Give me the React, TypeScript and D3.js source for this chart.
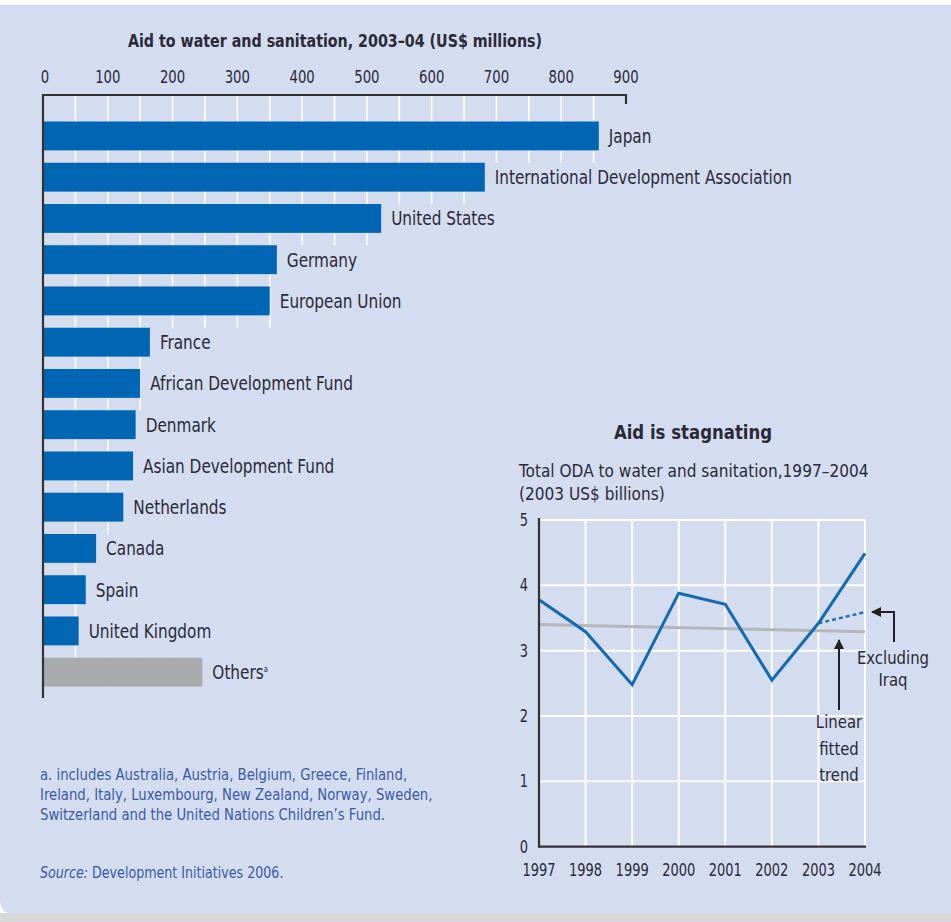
import React from "react";
import * as d3 from "d3";

const categories = [
  "Japan",
  "International Development Association",
  "United States",
  "Germany",
  "European Union",
  "France",
  "African Development Fund",
  "Denmark",
  "Asian Development Fund",
  "Netherlands",
  "Canada",
  "Spain",
  "United Kingdom",
  "Others",
];
const aidValues = [858, 682, 522, 361, 350, 165, 150, 143, 139, 124, 82, 66, 55, 246];
const barTicks = [0, 100, 200, 300, 400, 500, 600, 700, 800, 900];

const years = [1997, 1998, 1999, 2000, 2001, 2002, 2003, 2004];
const odaValues = [3.78, 3.29, 2.48, 3.88, 3.71, 2.55, 3.42, 4.49];
const exclIraqYears = [2003, 2004];
const exclIraqValues = [3.42, 3.59];
const trendYears = [1997, 2004];
const trendValues = [3.4, 3.29];
const yTicks = [0, 1, 2, 3, 4, 5];

const footnoteLines = [
  "a. includes Australia, Austria, Belgium, Greece, Finland,",
  "Ireland, Italy, Luxembourg, New Zealand, Norway, Sweden,",
  "Switzerland and the United Nations Children\u2019s Fund.",
];

const FONT = "'DejaVu Sans Condensed', 'Liberation Sans Narrow', sans-serif";
const TEXT = "#2b2a38";
const BLUE = "#0066b3";

function T(props: {
  x: number;
  y: number;
  sx?: number;
  size: number;
  anchor?: string;
  weight?: string;
  fill?: string;
  children: React.ReactNode;
}) {
  const { x, y, sx = 0.86, size, anchor = "start", weight = "normal", fill = TEXT, children } = props;
  return (
    <text
      transform={`translate(${x},${y}) scale(${sx},1)`}
      textAnchor={anchor}
      fontSize={size}
      fontWeight={weight}
      fill={fill}
    >
      {children}
    </text>
  );
}

export default function App() {
  const W = 951;
  const H = 922;

  const xB = d3.scaleLinear().domain([0, 900]).range([43, 626]);
  const yB = d3
    .scaleBand<string>()
    .domain(categories)
    .range([115.3, 692.8])
    .paddingInner(0.3)
    .paddingOuter(0.15);

  const xL = d3.scaleLinear().domain([1997, 2004]).range([539, 865]);
  const yL = d3.scaleLinear().domain([0, 5]).range([846.7, 520]);

  const line = d3
    .line<[number, number]>()
    .x((d) => xL(d[0]))
    .y((d) => yL(d[1]));

  const odaPts: [number, number][] = years.map((y, i) => [y, odaValues[i]]);
  const exPts: [number, number][] = exclIraqYears.map((y, i) => [y, exclIraqValues[i]]);
  const trPts: [number, number][] = trendYears.map((y, i) => [y, trendValues[i]]);

  const gridVals = d3.range(50, 900, 50);
  const n = categories.length;
  const lastBottom = (yB(categories[n - 1]) as number) + yB.bandwidth();

  const gridSegs: { v: number; y1: number; y2: number; k: string }[] = [];
  categories.forEach((c, i) => {
    const y1 = i === 0 ? 96 : (yB(c) as number);
    const y2 = i < n - 1 ? (yB(categories[i + 1]) as number) : lastBottom;
    gridVals
      .filter((v) => v <= aidValues[i])
      .forEach((v) => gridSegs.push({ v, y1, y2, k: c + v }));
  });

  return (
    <svg
      width={W}
      height={H}
      style={{ position: "absolute", left: 0, top: 0, fontFamily: FONT }}
    >
      <defs>
        <marker id="ah" viewBox="0 0 10 10" refX="9" refY="5" markerWidth="5" markerHeight="5" orient="auto-start-reverse">
          <path d="M0,0 L10,5 L0,10 Z" fill="#222" />
        </marker>
      </defs>
      <rect x={0} y={0} width={W} height={H} fill="#ffffff" />
      <rect x={0} y={913} width={W} height={9} fill="#d8d8d8" />
      <path d={`M0,5 L${W},5 L${W},914 L14,914 Q0,914 0,900 Z`} fill="#d3ddef" />

      {/* Bar chart */}
      <T x={335} y={47} size={18} sx={0.88} anchor="middle" weight="bold">
        Aid to water and sanitation, 2003–04 (US$ millions)
      </T>
      {barTicks.map((t) => (
        <T key={t} x={xB(t) + (t === 0 ? 2 : 0)} y={83} size={18} sx={0.82} anchor="middle">
          {t}
        </T>
      ))}
      {gridSegs.map((g) => (
        <line key={g.k} x1={xB(g.v)} x2={xB(g.v)} y1={g.y1} y2={g.y2} stroke="#ffffff" strokeWidth={1.6} />
      ))}
      {categories.map((c, i) => (
        <rect
          key={c}
          x={xB(0)}
          y={yB(c)}
          width={xB(aidValues[i]) - xB(0)}
          height={yB.bandwidth()}
          fill={c === "Others" ? "#a8aaae" : BLUE}
        />
      ))}
      {categories.map((c, i) => (
        <T key={c + "l"} x={xB(aidValues[i]) + 10} y={(yB(c) as number) + yB.bandwidth() / 2 + 7} size={20} sx={0.85}>
          {c}
          {c === "Others" ? (
            <tspan fontSize={9} dy={-7}>a</tspan>
          ) : null}
        </T>
      ))}
      <line x1={xB(0)} x2={xB(900)} y1={95} y2={95} stroke="#333" strokeWidth={2.2} />
      <line x1={xB(900)} x2={xB(900)} y1={94} y2={104} stroke="#333" strokeWidth={2.2} />
      <line x1={xB(0)} x2={xB(0)} y1={94} y2={698} stroke="#333" strokeWidth={2.2} />

      {/* Footnotes */}
      {footnoteLines.map((l, i) => (
        <T key={i} x={40} y={780 + i * 20} size={16} sx={0.92} fill="#3b5aa6">
          {l}
        </T>
      ))}
      <T x={40} y={878} size={16} sx={0.88} fill="#3b5aa6">
        <tspan fontStyle="italic">Source:</tspan> Development Initiatives 2006.
      </T>

      {/* Line chart */}
      <T x={693} y={439} size={20} sx={0.92} anchor="middle" weight="bold">
        Aid is stagnating
      </T>
      <T x={519} y={477} size={18} sx={0.95}>
        Total ODA to water and sanitation,1997–2004
      </T>
      <T x={519} y={500} size={18} sx={0.95}>
        (2003 US$ billions)
      </T>
      {yTicks.filter((t) => t > 0).map((t) => (
        <line key={t} x1={xL(1997)} x2={xL(2004)} y1={yL(t)} y2={yL(t)} stroke="#ffffff" strokeWidth={2} />
      ))}
      {years.filter((y) => y > 1997).map((y) => (
        <line key={y} x1={xL(y)} x2={xL(y)} y1={yL(5)} y2={yL(0)} stroke="#ffffff" strokeWidth={2} />
      ))}
      <path d={line(trPts) || ""} fill="none" stroke="#b3b6bb" strokeWidth={3} />
      <path d={line(exPts) || ""} fill="none" stroke="#2670bd" strokeWidth={2.5} strokeDasharray="4 3" />
      <path d={line(odaPts) || ""} fill="none" stroke="#1469b3" strokeWidth={3} />
      <line x1={xL(1997)} x2={xL(1997)} y1={yL(5) - 2} y2={yL(0) + 1} stroke="#333" strokeWidth={2.2} />
      <line x1={xL(1997)} x2={xL(2004) + 1} y1={yL(0)} y2={yL(0)} stroke="#333" strokeWidth={2.2} />
      {yTicks.map((t) => (
        <T key={t} x={524} y={yL(t) + 6} size={17} sx={0.85} anchor="middle">
          {t}
        </T>
      ))}
      {years.map((y) => (
        <T key={y} x={xL(y)} y={876} size={17} sx={0.85} anchor="middle">
          {y}
        </T>
      ))}

      {/* Annotations */}
      <path d="M894,642 L894,612 L872,612" fill="none" stroke="#222" strokeWidth={2} markerEnd="url(#ah)" />
      <T x={893} y={664} size={18} sx={0.92} anchor="middle">Excluding</T>
      <T x={893} y={686} size={18} sx={0.92} anchor="middle">Iraq</T>
      <path d="M839,710 L839,640" fill="none" stroke="#222" strokeWidth={2} markerEnd="url(#ah)" />
      <T x={839} y={728} size={18} sx={0.92} anchor="middle">Linear</T>
      <T x={839} y={755} size={18} sx={0.92} anchor="middle">fitted</T>
      <T x={839} y={781} size={18} sx={0.92} anchor="middle">trend</T>
    </svg>
  );
}
